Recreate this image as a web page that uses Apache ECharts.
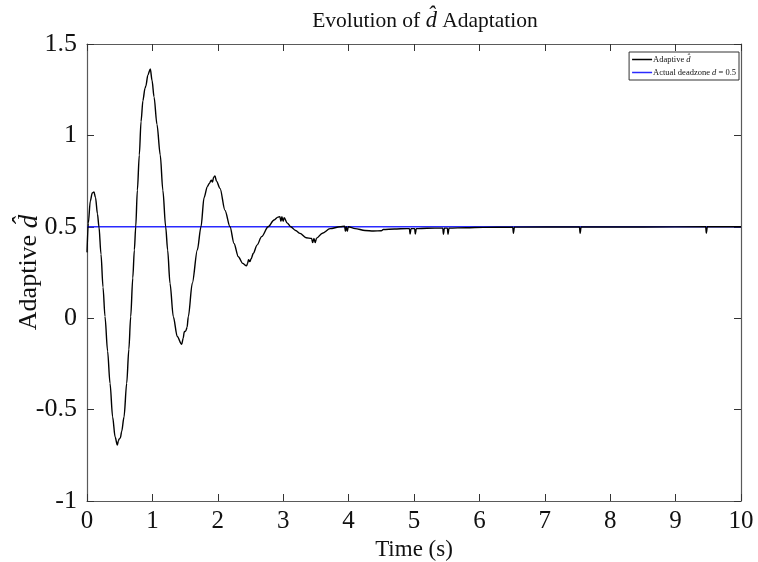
<!DOCTYPE html>
<html>
<head>
<meta charset="utf-8">
<script src="https://cdn.jsdelivr.net/npm/echarts@6/dist/echarts.min.js"></script>
<style>html,body{margin:0;padding:0;background:#fff}#c{width:758px;height:562px}</style>
</head>
<body>
<div id="c"></div>
<script>
// ---- data ----
const timeS = [0.000,0.02,0.05,0.08,0.107,0.13,0.16,0.183,0.214,0.245,0.275,0.315,0.352,0.392,0.43,0.464,0.48,0.494,0.51,0.53,0.566,0.607,0.64,0.668,0.70,0.724,0.745,0.77,0.80,0.826,0.855,0.887,0.90,0.93,0.968,0.995,1.025,1.07,1.12,1.16,1.203,1.233,1.269,1.32,1.38,1.448,1.47,1.488,1.51,1.53,1.549,1.61,1.687,1.743,1.79,1.84,1.87,1.90,1.92,1.935,1.957,1.98,2.034,2.11,2.187,2.248,2.314,2.38,2.44,2.455,2.47,2.49,2.51,2.543,2.60,2.67,2.77,2.86,2.92,2.95,2.965,2.98,3.00,3.015,3.063,3.115,3.19,3.257,3.35,3.435,3.45,3.47,3.49,3.51,3.60,3.716,3.87,3.94,3.95,3.965,3.98,3.995,4.10,4.25,4.38,4.50,4.53,4.70,4.89,4.93,4.94,4.955,5.01,5.02,5.035,5.20,5.44,5.45,5.465,5.51,5.52,5.535,5.80,6.06,6.51,6.52,6.535,7.53,7.54,7.555,8.5,9.46,9.47,9.485,10.0];
const dHat  = [0.36,0.52,0.64,0.685,0.69,0.66,0.57,0.50,0.35,0.17,0.01,-0.18,-0.356,-0.54,-0.65,-0.694,-0.67,-0.66,-0.655,-0.62,-0.54,-0.356,-0.17,0.008,0.22,0.373,0.50,0.70,0.893,1.075,1.19,1.258,1.27,1.33,1.363,1.30,1.21,1.06,0.893,0.70,0.50,0.373,0.191,0.008,-0.10,-0.143,-0.11,-0.074,-0.07,-0.05,0.008,0.191,0.373,0.50,0.66,0.72,0.737,0.755,0.745,0.77,0.778,0.75,0.71,0.59,0.50,0.409,0.336,0.30,0.286,0.30,0.32,0.31,0.325,0.355,0.40,0.446,0.50,0.537,0.553,0.555,0.53,0.555,0.53,0.55,0.52,0.50,0.48,0.464,0.44,0.436,0.414,0.436,0.414,0.438,0.465,0.49,0.50,0.503,0.475,0.50,0.475,0.50,0.49,0.48,0.477,0.478,0.485,0.488,0.49,0.49,0.46,0.49,0.49,0.46,0.49,0.492,0.493,0.46,0.493,0.493,0.46,0.493,0.495,0.497,0.498,0.465,0.498,0.499,0.465,0.499,0.499,0.5,0.465,0.5,0.5];
const actualD = 0.5;
const timeRange = [0, 10];
const yRange = [-1, 1.5];
const seriesNames = ['Adaptive d\u0302', 'Actual deadzone d = 0.5'];

const adaptiveData = timeS.map((t, i) => [t, dHat[i]]);
const actualData = [[timeRange[0], actualD], [timeRange[1], actualD]];

const chart = echarts.init(document.getElementById('c'));
const serif = '"Liberation Serif", "Times New Roman", serif';
const axCol = '#5a5a5a';
const tickCommon = {show: true, inside: true, length: 7, lineStyle: {color: '#333', width: 1}};
chart.setOption({
  animation: false,
  backgroundColor: '#fff',
  graphic: [{
    type: 'text', x: 425, y: 21,
    style: {
      text: 'Evolution of {i|d\u0302} Adaptation',
      font: '21.5px ' + serif, fill: '#111', align: 'center', verticalAlign: 'middle',
      rich: {i: {fontStyle: 'italic', fontSize: 22.5, fontFamily: serif, fill: '#111'}}
    }
  }],
  grid: {left: 87, right: 17, top: 44, bottom: 61, show: false, containLabel: false, outerBoundsMode: 'none'},
  legend: {
    right: 19, top: 52, orient: 'vertical',
    itemWidth: 20, itemHeight: 1.5, itemGap: 4,
    borderColor: '#333', borderWidth: 1, borderRadius: 0, padding: [3, 3, 3, 3],
    backgroundColor: '#fff',
    formatter: function (n) {
      if (n === seriesNames[0]) return 'Adaptive {i|d\u0302}';
      return 'Actual deadzone {i|d} = 0.5';
    },
    textStyle: {fontFamily: serif, fontSize: 8.5, color: '#111', padding: [0, 0, 0, -4],
      rich: {i: {fontStyle: 'italic', fontFamily: serif, fontSize: 8.5, color: '#111'}}},
    data: [{name: seriesNames[0], icon: 'rect'}, {name: seriesNames[1], icon: 'rect'}]
  },
  xAxis: [{
    type: 'value', min: timeRange[0], max: timeRange[1], interval: 1,
    name: 'Time (s)', nameLocation: 'middle', nameGap: 36,
    nameTextStyle: {fontFamily: serif, fontSize: 23, color: '#111'},
    axisLine: {show: true, onZero: false, lineStyle: {color: axCol, width: 1.2}},
    axisTick: tickCommon,
    axisLabel: {fontFamily: serif, fontSize: 25, color: '#111', margin: 8},
    splitLine: {show: false}
  }, {
    type: 'value', position: 'top', min: timeRange[0], max: timeRange[1], interval: 1,
    axisLine: {show: true, onZero: false, lineStyle: {color: axCol, width: 1.2}},
    axisTick: tickCommon, axisLabel: {show: false}, splitLine: {show: false}
  }],
  yAxis: [{
    type: 'value', min: yRange[0], max: yRange[1], interval: 0.5,
    name: 'Adaptive {i|d\u0302}', nameLocation: 'middle', nameGap: 44, nameRotate: 90,
    nameMoveOverlap: false,
    nameTextStyle: {fontFamily: serif, fontSize: 26, color: '#111',
      rich: {i: {fontStyle: 'italic', fontFamily: serif, fontSize: 27, color: '#111'}}},
    axisLine: {show: true, onZero: false, lineStyle: {color: axCol, width: 1.2}},
    axisTick: tickCommon,
    axisLabel: {fontFamily: serif, fontSize: 26, color: '#111', margin: 10},
    splitLine: {show: false}
  }, {
    type: 'value', position: 'right', min: yRange[0], max: yRange[1], interval: 0.5,
    axisLine: {show: true, onZero: false, lineStyle: {color: axCol, width: 1.2}},
    axisTick: tickCommon, axisLabel: {show: false}, splitLine: {show: false}
  }],
  series: [{
    name: seriesNames[0], type: 'line', data: adaptiveData, showSymbol: false, symbol: 'none',
    smooth: 0.3, smoothMonotone: 'x',
    lineStyle: {color: '#000', width: 1.4}, itemStyle: {color: '#000'}, z: 3
  }, {
    name: seriesNames[1], type: 'line', data: actualData, showSymbol: false, symbol: 'none',
    lineStyle: {color: '#2a2aff', width: 1.5}, itemStyle: {color: '#2a2aff'}, z: 2
  }]
});
</script>
</body>
</html>
